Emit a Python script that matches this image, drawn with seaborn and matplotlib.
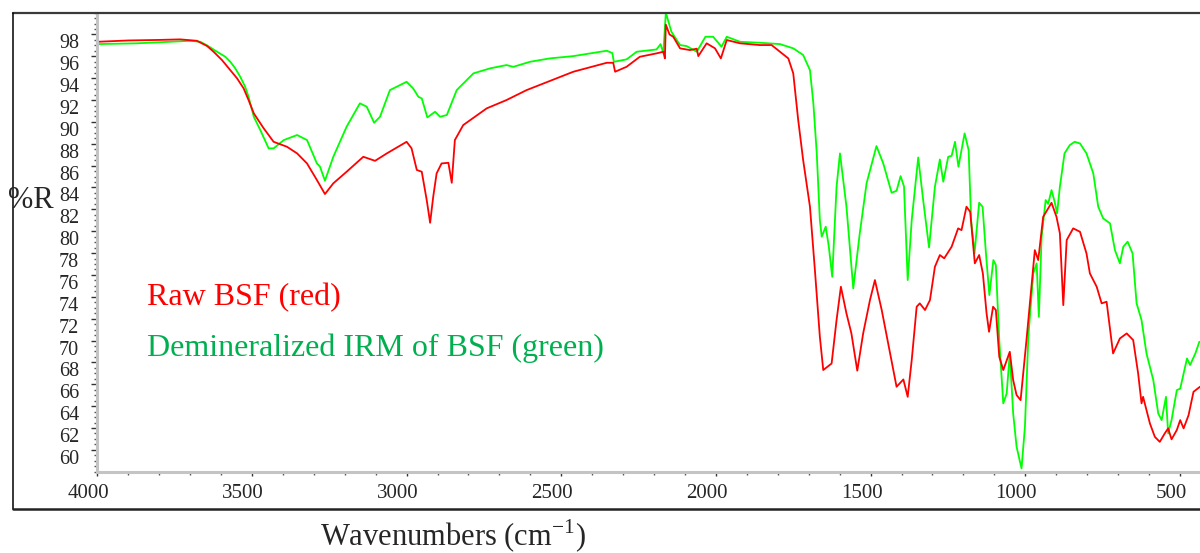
import matplotlib
matplotlib.use("Agg")
import matplotlib.pyplot as plt
import seaborn as sns
import numpy as np
import pandas as pd
from matplotlib.lines import Line2D
from matplotlib.transforms import ScaledTranslation
from matplotlib.ticker import MultipleLocator

# ---------------- data ----------------
raw_wn = [4000, 3900, 3800, 3732, 3678, 3645, 3624, 3597, 3570, 3548, 3527, 3511, 3494, 3462, 3430,
          3387, 3354, 3322, 3290,
          3264, 3237, 3194, 3140, 3102, 3064, 3000, 2984, 2967, 2951, 2935, 2924, 2914, 2903, 2887,
          2865, 2854, 2844, 2817, 2741, 2677, 2612, 2550, 2461, 2353, 2332, 2326, 2289, 2246, 2192,
          2170, 2165, 2162, 2150, 2138, 2116, 2084, 2062, 2057, 2030, 2003, 1984, 1965, 1922, 1858,
          1820, 1793, 1766, 1750, 1734, 1718, 1696, 1680, 1664, 1653, 1626, 1610, 1596, 1578, 1562,
          1543, 1524, 1502, 1486, 1464, 1443, 1416, 1394, 1380, 1367, 1351, 1341, 1324, 1308, 1292,
          1276, 1262, 1238, 1217, 1206, 1190, 1178, 1163, 1149, 1137, 1125, 1117, 1104, 1095, 1084,
          1071, 1050, 1039, 1028, 1015, 996, 969, 958, 942, 915, 899, 888, 877, 866, 845,
          823, 802, 791, 769, 753, 737, 716, 694, 672, 651, 635, 624, 619, 597, 581,
          565, 549, 538, 527, 510, 499, 488, 472, 456, 435]
raw_r = [97.33, 97.45, 97.50, 97.55, 97.42, 96.94, 96.42, 95.66, 94.74, 93.98, 93.07, 92.00, 90.78, 89.41, 88.18,
         87.73, 87.12, 86.20, 84.68,
         83.40, 84.38, 85.44, 86.81, 86.44, 87.12, 88.18, 87.58, 85.60, 85.44, 82.85, 80.77, 83.15, 85.29, 86.20,
         86.26, 84.43, 88.34, 89.71, 91.24, 92.00, 92.91, 93.60, 94.59, 95.41, 95.41, 94.59, 95.04, 95.96, 96.27,
         96.42, 95.81, 98.90, 98.00, 97.79, 96.73, 96.57, 96.70, 96.02, 97.19, 96.73, 95.81, 97.49, 97.19, 97.03,
         97.03, 96.42, 95.81, 94.44, 90.17, 86.51, 82.24, 76.44, 70.34, 67.30, 67.90, 71.87, 74.92, 72.48, 70.65,
         67.24, 70.65, 73.70, 75.53, 72.79, 69.74, 65.77, 66.44, 64.85, 68.21, 73.09, 73.40, 72.79, 73.70, 76.75,
         77.82, 77.52, 78.58, 80.26, 80.10, 82.24, 81.78, 77.06, 77.82, 76.14, 72.48, 70.80, 73.09, 72.79, 68.52,
         67.30, 68.97, 66.38, 65.01, 64.55, 70.04, 78.27, 77.36, 81.32, 82.60, 81.32, 79.80, 73.24, 79.19, 80.26,
         79.95, 77.97, 76.14, 74.92, 73.40, 73.55, 68.82, 70.19, 70.65, 70.04, 66.99, 64.25, 64.85, 62.42, 61.19,
         60.73, 61.50, 61.96, 60.96, 61.81, 62.72, 61.96, 63.17, 65.31, 65.77]

demin_wn = [4000, 3872, 3750, 3699, 3667, 3645, 3613, 3586, 3570, 3554, 3538, 3522, 3511, 3494, 3473,
            3446, 3430, 3397, 3354,
            3322, 3290, 3280, 3264, 3237, 3194, 3151, 3129, 3105, 3086, 3054, 3000, 2979, 2962, 2951,
            2933, 2908, 2892, 2870, 2838, 2784, 2730, 2677, 2655, 2601, 2537, 2461, 2353, 2335, 2330,
            2289, 2256, 2192, 2179, 2170, 2162, 2144, 2116, 2095, 2062, 2034, 2009, 1982, 1965, 1922,
            1858, 1793, 1750, 1718, 1696, 1685, 1674, 1664, 1658, 1645, 1635, 1624, 1610, 1599, 1578,
            1556, 1535, 1513, 1481, 1459, 1432, 1416, 1403, 1392, 1380, 1367, 1346, 1330, 1311, 1292,
            1276, 1265, 1249, 1238, 1227, 1216, 1196, 1183, 1175, 1164, 1149, 1138, 1127, 1116, 1103,
            1095, 1084, 1071, 1060, 1050, 1039, 1028, 1012, 1001, 990, 974, 963, 956, 947, 934,
            926, 915, 905, 897, 888, 873, 856, 840, 823, 802, 780, 764, 748, 726, 710,
            694, 683, 669, 653, 640, 624, 608, 586, 570, 559, 545, 538, 527, 510, 499,
            477, 467, 450, 437]
demin_r = [97.12, 97.19, 97.35, 97.42, 97.33, 97.00, 96.42, 95.96, 95.50, 94.90, 94.13, 93.22, 92.30, 90.47, 89.25,
           87.58, 87.58, 88.34, 88.80,
           88.34, 86.20, 85.90, 84.62, 86.81, 89.56, 91.70, 91.39, 89.92, 90.47, 92.91, 93.67, 93.07, 92.30, 92.15,
           90.41, 90.93, 90.47, 90.63, 92.91, 94.44, 94.90, 95.20, 95.04, 95.50, 95.81, 96.02, 96.51, 96.30, 95.50,
           95.72, 96.42, 96.63, 97.12, 96.30, 100.00, 98.25, 97.03, 96.94, 96.42, 97.79, 97.79, 96.88, 97.79, 97.33,
           97.24, 97.12, 96.73, 96.12, 94.74, 91.70, 87.12, 81.02, 79.50, 80.41, 78.58, 75.83, 84.07, 87.12, 82.24,
           74.77, 79.80, 84.38, 87.79, 86.20, 83.52, 83.70, 85.04, 84.10, 75.53, 81.02, 86.75, 82.85, 78.52, 84.07,
           86.57, 84.53, 86.81, 86.90, 88.18, 85.90, 88.95, 87.42, 81.02, 77.97, 82.60, 82.24, 77.97, 74.16, 77.36,
           76.90, 70.04, 64.25, 65.16, 68.82, 63.33, 60.28, 58.30, 62.11, 70.34, 76.14, 77.06, 72.17, 79.50, 82.85,
           82.50, 83.76, 82.70, 81.63, 84.07, 87.12, 87.88, 88.18, 88.03, 87.12, 85.29, 82.24, 81.17, 80.72, 78.27,
           77.06, 78.58, 79.04, 77.97, 73.40, 71.87, 68.82, 66.38, 63.33, 62.72, 64.85, 61.50, 62.72, 65.46, 65.60,
           68.36, 67.76, 68.82, 69.89]

y_ticks = list(range(60, 99, 2))
x_ticks = [4000, 3500, 3000, 2500, 2000, 1500, 1000, 500]
series_labels = ["Raw BSF (red)", "Demineralized IRM of BSF (green)"]

# ---------------- figure ----------------
sns.set_style("white")
plt.rcParams["font.family"] = ["Liberation Serif", "DejaVu Serif"]
plt.rcParams["mathtext.fontset"] = "custom"
plt.rcParams["mathtext.rm"] = "Liberation Serif"

W, H = 1200, 553
fig = plt.figure(figsize=(W / 100, H / 100), dpi=100)
ax = fig.add_axes([97.3 / W, 1 - 471.7 / H, (1200 - 97.3) / W, (471.7 - 12.6) / H])

sns.lineplot(x=demin_wn, y=demin_r, ax=ax, color="#00ff00", lw=1.3, estimator=None, sort=False)
sns.lineplot(x=raw_wn, y=raw_r, ax=ax, color="#ff0000", lw=1.3, estimator=None, sort=False)

ax.set_xlim(4000, 435)
ax.set_ylim(58, 100)
ax.set_xticks(x_ticks)
ax.set_yticks(y_ticks)
ax.xaxis.set_minor_locator(MultipleLocator(100))
ax.yaxis.set_minor_locator(MultipleLocator(0.5))
ax.set_xlabel("")
ax.set_ylabel("")

for s in ["top", "right"]:
    ax.spines[s].set_visible(False)
for s in ["left", "bottom"]:
    ax.spines[s].set_color("#c4c4c4")
    ax.spines[s].set_linewidth(2.2)

ax.tick_params(axis="y", which="major", direction="out", length=4, width=1, color="#333333",
               labelsize=14.5, pad=9, left=True)
ax.tick_params(axis="y", which="minor", direction="out", length=2, width=1, color="#555555", left=True)
ax.tick_params(axis="x", which="major", direction="out", length=3, width=1, color="#333333",
               labelsize=15, pad=6, bottom=True)
ax.tick_params(axis="x", which="minor", direction="out", length=2, width=1, color="#555555", bottom=True)

# tick labels are slightly displaced from their ticks in the reference
yoff = ScaledTranslation(0, -7 / 100, fig.dpi_scale_trans)
for lab in ax.get_yticklabels():
    lab.set_transform(lab.get_transform() + yoff)
xoff = ScaledTranslation(-9 / 100, 0, fig.dpi_scale_trans)
for lab in ax.get_xticklabels():
    lab.set_transform(lab.get_transform() + xoff)

# text annotations
ax.text(147 / W, 1 - 298 / H, series_labels[0], transform=fig.transFigure, color="#ff0000",
        fontsize=23, va="center", ha="left")
ax.text(147 / W, 1 - 348 / H, series_labels[1], transform=fig.transFigure, color="#00b050",
        fontsize=23, va="center", ha="left")

fig.text(31 / W, 1 - 200 / H, "%R", fontsize=22, ha="center", va="center")
fig.text(453 / W, 1 - 546 / H, r"Wavenumbers (cm$^{\mathregular{-1}}$)", fontsize=22,
         ha="center", va="baseline")

# outer frame
fig.add_artist(Line2D([13 / W, 1.0], [1 - 12.7 / H, 1 - 12.7 / H], transform=fig.transFigure,
                      color="#3a3a3a", lw=1.6))
fig.add_artist(Line2D([13 / W, 13 / W], [1 - 12.7 / H, 1 - 509 / H], transform=fig.transFigure,
                      color="black", lw=1.1))
fig.add_artist(Line2D([13 / W, 1.0], [1 - 509 / H, 1 - 509 / H], transform=fig.transFigure,
                      color="#222222", lw=1.8))

fig.savefig("out.png", dpi=100)
